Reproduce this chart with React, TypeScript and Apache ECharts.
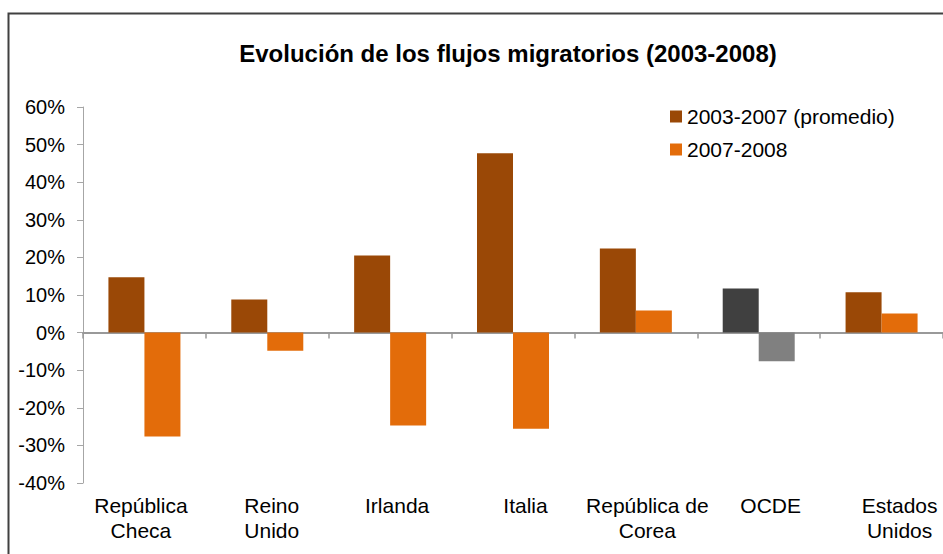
import React, { useEffect, useRef } from "react";
import * as echarts from "echarts";

const TITLE = "Evolución de los flujos migratorios (2003-2008)";
const categories = [
  "República\nCheca",
  "Reino\nUnido",
  "Irlanda",
  "Italia",
  "República de\nCorea",
  "OCDE",
  "Estados\nUnidos",
];
const seriesNames = ["2003-2007 (promedio)", "2007-2008"];
const avg0307 = [14.7, 8.8, 20.5, 47.7, 22.4, 11.7, 10.7];
const chg0708 = [-27.6, -4.8, -24.7, -25.6, 5.9, -7.6, 5.1];
const yTicks = { min: -40, max: 60, interval: 10 };
// horizontal nudge of each category label (px), as laid out in the original
const labelShift = [-3.5, 4.5, 7, 12.5, 11.5, 12, 18];
const highlightIndex = 5; // OCDE drawn in greys

const BROWN = "#9A4806";
const ORANGE = "#E36C0A";
const DARK = "#404040";
const GREY = "#808080";
const FONT = "Liberation Sans, Arial, sans-serif";

export default function App() {
  const ref = useRef<HTMLDivElement>(null);
  useEffect(() => {
    if (!ref.current) return;
    const chart = echarts.init(ref.current, undefined, { renderer: "svg" });
    const labelData = categories.map((c, i) => {
      const s = labelShift[i];
      return {
        value: c,
        textStyle: {
          padding: s >= 0 ? [0, 0, 0, 2 * s] : [0, -2 * s, 0, 0],
        },
      };
    });
    chart.setOption({
      animation: false,
      backgroundColor: "#ffffff",
      textStyle: { fontFamily: FONT },
      title: {
        text: TITLE,
        left: 503,
        textAlign: "center",
        top: 36,
        textStyle: { fontFamily: FONT, fontWeight: "bold", fontSize: 24, color: "#000" },
      },
      legend: {
        orient: "vertical",
        left: 665,
        top: 101,
        itemWidth: 12,
        itemHeight: 12,
        itemGap: 12,
        icon: "rect",
        data: seriesNames,
        textStyle: { fontFamily: FONT, fontSize: 21, color: "#000", lineHeight: 21 },
      },
      grid: { left: 83, right: 0, top: 107, bottom: 71, containLabel: false },
      xAxis: [
        {
          type: "category",
          data: categories,
          axisLine: { onZero: true, lineStyle: { color: "#999999", width: 2 } },
          axisTick: { show: true, length: 6, lineStyle: { color: "#999999", width: 1.5 } },
          axisLabel: { show: false },
        },
        {
          type: "category",
          data: labelData,
          position: "bottom",
          axisLine: { show: false, onZero: false },
          axisTick: { show: false },
          axisLabel: {
            show: true,
            interval: 0,
            margin: 10,
            fontFamily: FONT,
            fontSize: 21,
            lineHeight: 25,
            color: "#000",
          },
        },
      ],
      yAxis: {
        type: "value",
        min: yTicks.min,
        max: yTicks.max,
        interval: yTicks.interval,
        splitLine: { show: false },
        axisLine: { show: true, lineStyle: { color: "#A6A6A6", width: 1 } },
        axisTick: { show: true, length: 6, lineStyle: { color: "#A6A6A6" } },
        axisLabel: {
          formatter: "{value}%",
          margin: 18,
          fontFamily: FONT,
          fontSize: 20,
          color: "#000",
          padding: [5, 0, 0, 0],
        },
      },
      series: [
        {
          name: seriesNames[0],
          type: "bar",
          xAxisIndex: 0,
          barWidth: 36,
          barGap: "0%",
          itemStyle: { color: BROWN },
          data: avg0307.map((v, i) =>
            i === highlightIndex ? { value: v, itemStyle: { color: DARK } } : v
          ),
        },
        {
          name: seriesNames[1],
          type: "bar",
          xAxisIndex: 0,
          barWidth: 36,
          barGap: "0%",
          itemStyle: { color: ORANGE },
          data: chg0708.map((v, i) =>
            i === highlightIndex ? { value: v, itemStyle: { color: GREY } } : v
          ),
        },
      ],
      graphic: [
        {
          type: "rect",
          shape: { x: 8.5, y: 13.5, width: 960, height: 600 },
          style: { fill: "none", stroke: "#404040", lineWidth: 2 },
          silent: true,
          z: 100,
        },
      ],
    });
    return () => chart.dispose();
  }, []);
  return (
    <div
      ref={ref}
      style={{ position: "absolute", left: 0, top: 0, width: 943, height: 554 }}
    />
  );
}
